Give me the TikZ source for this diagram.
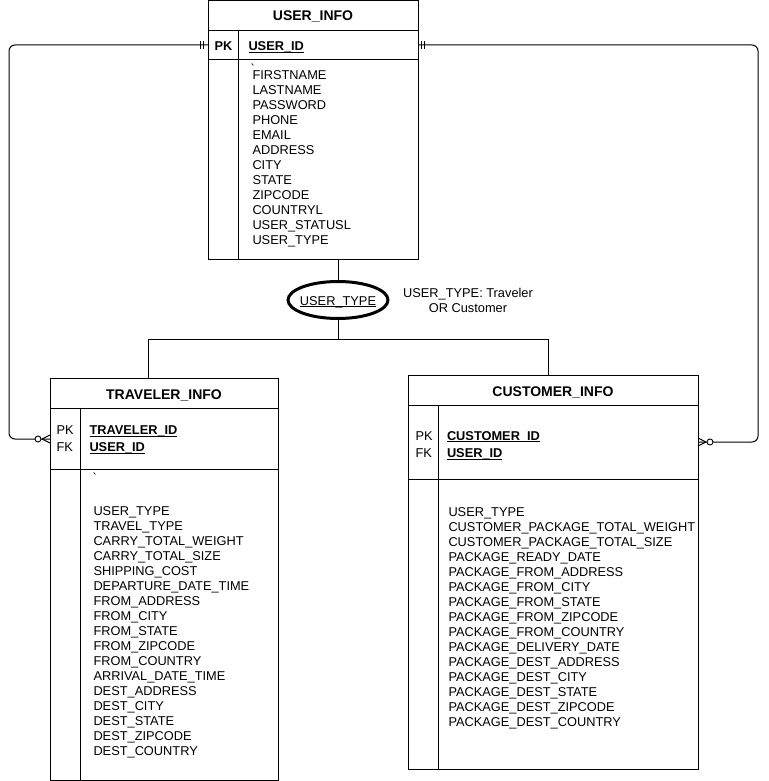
\documentclass[tikz,border=0pt]{standalone}
\usepackage{fontspec}
\setmainfont{Liberation Sans}
\usetikzlibrary{shapes.geometric}
\newcommand{\ulx}[1]{\setbox0\hbox{#1}\rlap{\rule[-2.2pt]{\wd0}{0.9pt}}\box0}
\begin{document}
\begin{tikzpicture}[x=1pt,y=-1pt,line width=1pt,
  tbl/.style={draw, rectangle, anchor=north west, inner sep=0pt, outer sep=0pt},
  hdr/.style={font=\fontsize{14}{16}\selectfont\bfseries, anchor=base, inner sep=0pt},
  txt/.style={font=\fontsize{12.8}{15}\selectfont, anchor=base west, inner sep=0pt},
  keyb/.style={font=\fontsize{12.8}{15}\selectfont\bfseries, anchor=base west, inner sep=0pt},
  tick/.style={font=\fontsize{12.8}{15}\selectfont, anchor=base west, inner sep=0pt, text height=0pt, text depth=0pt},
  conn/.style={rounded corners=6pt},
  ringmark/.style={draw, fill=white, line width=0.9pt}
]
\useasboundingbox (0,0) rectangle (768,781);

% ---------- USER_INFO ----------
\node[tbl, minimum width=210pt, minimum height=258pt] (user) at (208,1) {};
\draw (208,31) -- (418,31);
\draw (208,60) -- (418,60);
\draw (238,31) -- (238,259);
\node[hdr] (uh) at (313,21) {USER\_INFO};
\node[keyb] (upk) at (214,50.7) {PK};
\node[keyb] (uid) at (248,50.7) {\ulx{USER\_ID}};
\node[tick] (ubt) at (250,74) {\textasciigrave};
\foreach \t [count=\i] in {FIRSTNAME,LASTNAME,PASSWORD,PHONE,EMAIL,ADDRESS,CITY,STATE,ZIPCODE,COUNTRYL,USER\_STATUSL,USER\_TYPE}
  \node[txt] (u\i) at (252,{79.5+15*(\i-1)}) {\t};

% ---------- TRAVELER_INFO ----------
\node[tbl, minimum width=228pt, minimum height=402pt] (trav) at (50,378) {};
\draw (50,408) -- (278,408);
\draw (50,469) -- (278,469);
\draw (80,408) -- (80,780);
\node[hdr] (th) at (164,399.3) {TRAVELER\_INFO};
\node[txt] (tpk) at (56,434.3) {PK};
\node[txt] (tfk) at (56,451.7) {FK};
\node[keyb] (tid) at (89,434.3) {\ulx{TRAVELER\_ID}};
\node[keyb] (tuid) at (89,451.7) {\ulx{USER\_ID}};
\node[tick] (tbt) at (92,482) {\textasciigrave};
\foreach \t [count=\i] in {USER\_TYPE,TRAVEL\_TYPE,CARRY\_TOTAL\_WEIGHT,CARRY\_TOTAL\_SIZE,SHIPPING\_COST,DEPARTURE\_DATE\_TIME,FROM\_ADDRESS,FROM\_CITY,FROM\_STATE,FROM\_ZIPCODE,FROM\_COUNTRY,ARRIVAL\_DATE\_TIME,DEST\_ADDRESS,DEST\_CITY,DEST\_STATE,DEST\_ZIPCODE,DEST\_COUNTRY}
  \node[txt] (t\i) at (93,{515+15*(\i-1)}) {\t};

% ---------- CUSTOMER_INFO ----------
\node[tbl, minimum width=290pt, minimum height=394pt] (cust) at (408,375) {};
\draw (408,405) -- (698,405);
\draw (408,479) -- (698,479);
\draw (438,405) -- (438,769);
\node[hdr] (ch) at (553,396) {CUSTOMER\_INFO};
\node[txt] (cpk) at (415,440) {PK};
\node[txt] (cfk) at (415,457.3) {FK};
\node[keyb] (cid) at (446.5,440) {\ulx{CUSTOMER\_ID}};
\node[keyb] (cuid) at (446.5,457.3) {\ulx{USER\_ID}};
\foreach \t [count=\i] in {USER\_TYPE,CUSTOMER\_PACKAGE\_TOTAL\_WEIGHT,CUSTOMER\_PACKAGE\_TOTAL\_SIZE,PACKAGE\_READY\_DATE,PACKAGE\_FROM\_ADDRESS,PACKAGE\_FROM\_CITY,PACKAGE\_FROM\_STATE,PACKAGE\_FROM\_ZIPCODE,PACKAGE\_FROM\_COUNTRY,PACKAGE\_DELIVERY\_DATE,PACKAGE\_DEST\_ADDRESS,PACKAGE\_DEST\_CITY,PACKAGE\_DEST\_STATE,PACKAGE\_DEST\_ZIPCODE,PACKAGE\_DEST\_COUNTRY}
  \node[txt] (c\i) at (448,{516+15*(\i-1)}) {\t};

% ---------- USER_TYPE discriminator ----------
\node[draw, ellipse, line width=3pt, minimum width=100pt, minimum height=37pt, inner sep=0pt] (ell) at (338,300) {};
\node[txt, anchor=base] (ellt) at (338,305) {\ulx{USER\_TYPE}};
\node[txt, anchor=base] (note1) at (468,297) {USER\_TYPE: Traveler};
\node[txt, anchor=base] (note2) at (468,312) {OR Customer};

\coordinate (sp) at (338,339);
\coordinate (tj) at (148,339);
\coordinate (cj) at (548,339);
\draw (ell.north) -- (ell.north |- user.south);
\draw (ell.south) -- (sp);
\draw (tj) -- (cj);
\draw (tj) -- (tj |- trav.north);
\draw (cj) -- (cj |- cust.north);

% ---------- relationships ----------
\coordinate (rowU) at (313,45);
\coordinate (rowT) at (164,439);
\coordinate (rowC) at (553,442);
\coordinate (lk1) at (9,45);
\coordinate (lk2) at (9,439);
\coordinate (rk1) at (758,45);
\coordinate (rk2) at (758,442);
\draw[conn] (user.west |- rowU) -- (lk1) -- (lk2) -- (trav.west |- rowT);
\draw[conn] (user.east |- rowU) -- (rk1) -- (rk2) -- (cust.east |- rowC);
% one-and-only-one marks
\draw (200.5,41) -- (200.5,49) (203.5,41) -- (203.5,49);
\draw (421.5,41) -- (421.5,49) (424.5,41) -- (424.5,49);
% zero-or-many marks
\draw (42,439) -- (50,435) (42,439) -- (50,443);
\draw[ringmark] (38,439) circle (3pt);
\draw (706,442) -- (698,438) (706,442) -- (698,446);
\draw[ringmark] (710,442) circle (3pt);
\end{tikzpicture}
\end{document}
